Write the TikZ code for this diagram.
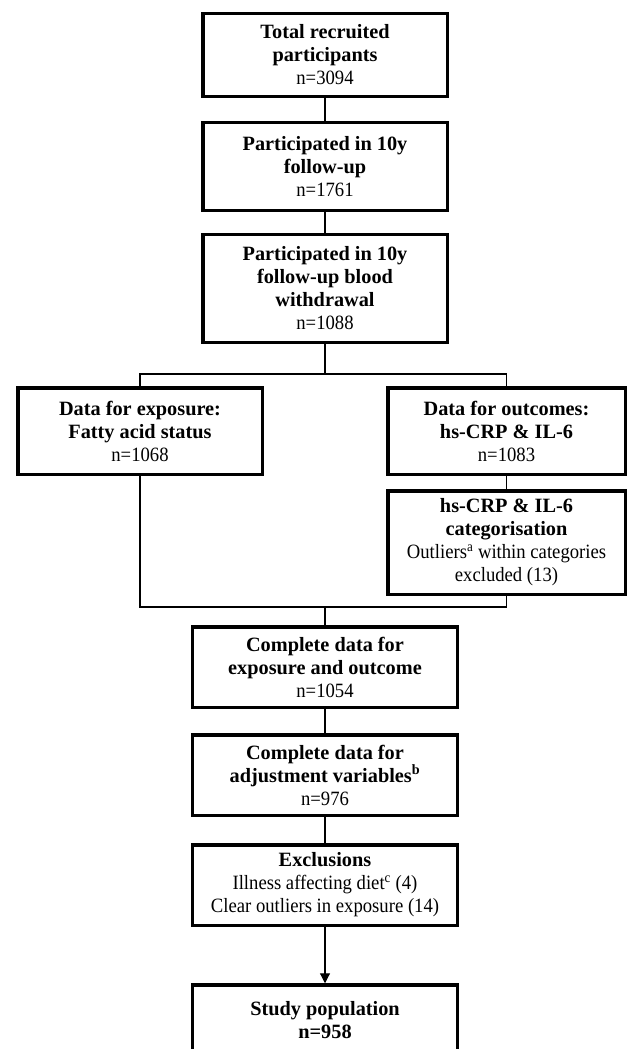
\documentclass[tikz,border=0pt]{standalone}
\usepackage{fontspec}
\setmainfont{Liberation Serif}[UprightFeatures={FakeStretch=0.92}]
\usetikzlibrary{arrows.meta}
\begin{document}
\begin{tikzpicture}[x=1pt,y=-1pt,
    stage/.style={draw,line width=3.5pt,inner sep=0pt,align=center,
      font=\fontsize{20.3}{23}\selectfont},
    link/.style={line width=1.1pt}]
  \useasboundingbox (0,0) rectangle (629,1049);
  \node[stage,minimum width=244.5pt,minimum height=83pt] (total) at (325,55)
    {\textbf{Total recruited}\\\textbf{participants}\\n=3094};
  \node[stage,minimum width=244.5pt,minimum height=88pt] (follow) at (325,166.5)
    {\textbf{Participated in 10y}\\\textbf{follow-up}\\n=1761};
  \node[stage,minimum width=244.5pt,minimum height=108pt] (blood) at (325,288.5)
    {\textbf{Participated in 10y}\\\textbf{follow-up blood}\\\textbf{withdrawal}\\n=1088};
  \node[stage,minimum width=244.5pt,minimum height=86.5pt] (expo) at (140,431)
    {\textbf{Data for exposure:}\\\textbf{Fatty acid status}\\n=1068};
  \node[stage,minimum width=237.5pt,minimum height=86.5pt] (outc) at (506.5,431)
    {\textbf{Data for outcomes:}\\\textbf{hs-CRP \& IL-6}\\n=1083};
  \node[stage,minimum width=237.5pt,minimum height=103.5pt] (categ) at (506.5,542.5)
    {\textbf{hs-CRP \& IL-6}\\\textbf{categorisation}\\Outliers\textsuperscript{a} within categories\\excluded (13)};
  \node[stage,minimum width=265pt,minimum height=80.5pt] (compl) at (325,667)
    {\textbf{Complete data for}\\\textbf{exposure and outcome}\\n=1054};
  \node[stage,minimum width=265pt,minimum height=80.5pt] (adjust) at (325,775)
    {\textbf{Complete data for}\\\textbf{adjustment variables\textsuperscript{b}}\\n=976};
  \node[stage,minimum width=265pt,minimum height=80.5pt] (excl) at (325,885)
    {\textbf{Exclusions}\\Illness affecting diet\textsuperscript{c} (4)\\Clear outliers in exposure (14)};
  \node[stage,minimum width=265pt,minimum height=70pt] (study) at (325,1020)
    {\textbf{Study population}\\\textbf{n=958}};
  \coordinate (split) at (325,374);
  \coordinate (join) at (325,607);
  \begin{scope}[link]
    \draw (total) -- (follow);
    \draw (follow) -- (blood);
    \draw (blood) -- (split);
    \draw (expo.north) |- (split) -| (outc.north);
    \draw (outc) -- (categ);
    \draw (expo.south) |- (join) -| (categ.south);
    \draw (join) -- (compl.north);
    \draw (compl) -- (adjust);
    \draw (adjust) -- (excl);
    \draw[-{Triangle[length=10pt,width=10pt]}] (excl) -- (study);
  \end{scope}
\end{tikzpicture}
\end{document}
